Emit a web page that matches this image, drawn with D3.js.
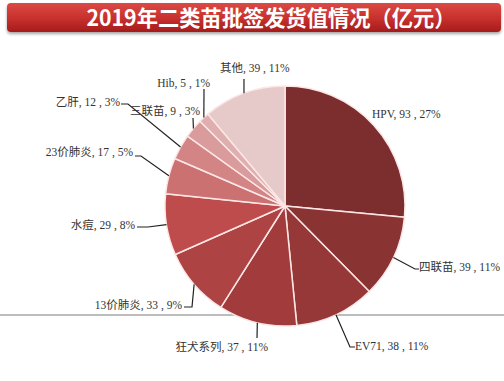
<!DOCTYPE html>
<html><head><meta charset="utf-8">
<script src="https://cdn.jsdelivr.net/npm/d3@7"></script>
<style>body{margin:0;background:#fff;}svg{display:block;}</style>
</head><body>
<script>
const categories = ["HPV","四联苗","EV71","狂犬系列","13价肺炎","水痘","23价肺炎","乙肝","三联苗","Hib","其他"];
const values = [93,39,38,37,33,29,17,12,9,5,39];
const percents = [27,11,11,11,9,8,5,3,3,1,11];
const colors = ["#7c2e2e","#8a3333","#963838","#a23c3c","#ad4343","#bf4c4c","#cb7171","#d38484","#d99b9b","#dfaeae","#e6caca"];
const title = "2019年二类苗批签发货值情况（亿元）";
// label layout: elbow point, text position, anchor
const labelLayout = [
  {ex:null, ey:null, tx:372, ty:118, anchor:"start", lx:null},
  {ex:415, ey:269, tx:419, ty:271, anchor:"start", lx:419},
  {ex:350, ey:347, tx:355, ty:350, anchor:"start", lx:355},
  {ex:257, ey:338, tx:268, ty:351, anchor:"end", lx:257},
  {ex:192, ey:307, tx:182, ty:309, anchor:"end", lx:184},
  {ex:148, ey:227, tx:135, ty:229, anchor:"end", lx:137},
  {ex:141, ey:156, tx:133, ty:156, anchor:"end", lx:135},
  {ex:128, ey:104, tx:120, ty:106, anchor:"end", lx:121},
  {ex:193, ey:118, tx:200, ty:115, anchor:"end", lx:193},
  {ex:204, ey:89, tx:210, ty:87, anchor:"end", lx:204},
  {ex:244, ey:79, tx:220, ty:72, anchor:"start", lx:244}
];

const W=504, H=381, cx=285, cy=206, R=120;
const svg = d3.select("body").append("svg").attr("width",W).attr("height",H);
const defs = svg.append("defs");
const g1 = defs.append("linearGradient").attr("id","tg").attr("x1",0).attr("y1",0).attr("x2",0).attr("y2",1);
g1.append("stop").attr("offset","0%").attr("stop-color","#dc4a44");
g1.append("stop").attr("offset","55%").attr("stop-color","#c62f2c");
g1.append("stop").attr("offset","100%").attr("stop-color","#a51c1c");
const f = defs.append("filter").attr("id","sh").attr("x","-5%").attr("y","-20%").attr("width","110%").attr("height","160%");
f.append("feDropShadow").attr("dx",0).attr("dy",2).attr("stdDeviation",1.5).attr("flood-color","#000").attr("flood-opacity",0.35);

svg.append("rect").attr("x",7).attr("y",3).attr("width",494).attr("height",29).attr("rx",4)
  .attr("fill","url(#tg)").attr("filter","url(#sh)");
svg.append("text").attr("x",271).attr("y",26).attr("text-anchor","middle")
  .attr("font-family","'Noto Sans CJK SC','Noto Sans',sans-serif").attr("font-weight","bold")
  .attr("font-size",22).attr("fill","#fff").attr("textLength",369).attr("lengthAdjust","spacingAndGlyphs")
  .text(title);

// gray baseline
svg.append("line").attr("x1",0).attr("x2",W).attr("y1",315).attr("y2",315)
  .attr("stroke","#bdbdbd").attr("stroke-width",2);

const pie = d3.pie().sort(null).value(d=>d);
const arcs = pie(values);
const arc = d3.arc().innerRadius(0).outerRadius(R);
const pg = svg.append("g").attr("transform",`translate(${cx},${cy})`);
pg.selectAll("path").data(arcs).join("path").attr("d",arc)
  .attr("fill",(d,i)=>colors[i]).attr("stroke","#fde6e6").attr("stroke-width",1.5).attr("stroke-linejoin","round");

const font = "'Liberation Serif','Noto Sans CJK SC',serif";
arcs.forEach((a,i)=>{
  const L = labelLayout[i];
  const mid = (a.startAngle+a.endAngle)/2;
  const px = cx + R*Math.sin(mid), py = cy - R*Math.cos(mid);
  if (L.ex!==null){
    const pts = [[px,py],[L.ex,L.ey]];
    if (L.lx!==null && L.lx!==L.ex) pts.push([L.lx,L.ey]);
    svg.append("path").attr("d",d3.line()(pts)).attr("fill","none").attr("stroke","#222").attr("stroke-width",1.2);
  }
  svg.append("text").attr("x",L.tx).attr("y",L.ty).attr("text-anchor",L.anchor)
    .attr("font-family",font).attr("font-size",11.5).attr("fill","#333")
    .text(`${categories[i]}, ${values[i]} , ${percents[i]}%`);
});
</script>
</body></html>
